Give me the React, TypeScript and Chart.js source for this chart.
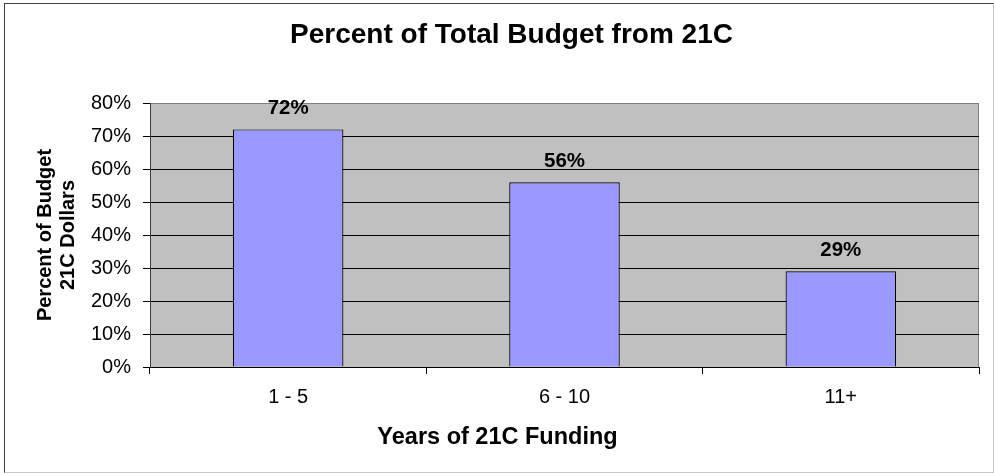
import React, { useEffect, useRef } from "react";
import { Chart, registerables } from "chart.js";

Chart.register(...registerables);

const categories = ["1 - 5", "6 - 10", "11+"];
const percentValues = [72, 56, 29];
const yMin = 0;
const yMax = 80;
const yStep = 10;
const chartTitle = "Percent of Total Budget from 21C";
const xAxisTitle = "Years of 21C Funding";
const yAxisTitleLines = ["Percent of Budget", "21C Dollars"];

const FONT = "'Liberation Sans', Arial, Helvetica, sans-serif";
const W = 995;
const H = 473;

export default function App() {
  const ref = useRef<HTMLCanvasElement>(null);

  useEffect(() => {
    if (!ref.current) return;

    const excelLook = {
      id: "excelLook",
      beforeDraw(chart: any) {
        const { ctx, chartArea: a } = chart;
        ctx.save();
        ctx.fillStyle = "#FFFFFF";
        ctx.fillRect(0, 0, chart.width, chart.height);
        ctx.fillStyle = "#C0C0C0";
        ctx.fillRect(a.left, a.top, a.right - a.left, a.bottom - a.top);
        ctx.strokeStyle = "#808080";
        ctx.lineWidth = 1;
        ctx.strokeRect(a.left + 0.5, a.top + 0.5, a.right - a.left - 1, a.bottom - a.top);
        ctx.restore();
      },
      afterDraw(chart: any) {
        const { ctx, chartArea: a } = chart;
        ctx.save();
        ctx.fillStyle = "#000";
        ctx.textAlign = "center";
        ctx.textBaseline = "alphabetic";

        // Chart title
        ctx.font = `bold 28px ${FONT}`;
        ctx.fillText(chartTitle, chart.width / 2 + 14, 43);

        // X axis title
        ctx.font = `bold 23.5px ${FONT}`;
        ctx.fillText(xAxisTitle, chart.width / 2, 444);

        // Y axis title (rotated, two lines)
        ctx.font = `bold 20px ${FONT}`;
        ctx.textBaseline = "middle";
        const cy = (a.top + a.bottom) / 2;
        yAxisTitleLines.forEach((line, i) => {
          ctx.save();
          ctx.translate(45 + i * 23, cy);
          ctx.rotate(-Math.PI / 2);
          ctx.fillText(line, 0, 0);
          ctx.restore();
        });

        // Data labels
        ctx.font = `bold 20.5px ${FONT}`;
        ctx.textBaseline = "alphabetic";
        const meta = chart.getDatasetMeta(0);
        meta.data.forEach((bar: any, i: number) => {
          ctx.fillText(`${percentValues[i]}%`, bar.x, bar.y - 15);
        });
        ctx.restore();
      },
    };

    const chart = new Chart(ref.current, {
      type: "bar",
      data: {
        labels: categories,
        datasets: [
          {
            data: percentValues,
            backgroundColor: "#9999FF",
            borderColor: "#000000",
            borderWidth: 1.2,
            barPercentage: 0.4,
            categoryPercentage: 1,
          },
        ],
      },
      options: {
        responsive: false,
        animation: false,
        devicePixelRatio: 1,
        layout: { padding: { top: 103, right: 16, left: 0, bottom: 0 } },
        plugins: {
          legend: { display: false },
          title: { display: false },
          tooltip: { enabled: false },
        },
        scales: {
          x: {
            offset: true,
            grid: {
              offset: true,
              drawOnChartArea: false,
              drawTicks: true,
              tickLength: 7,
              color: "#000",
              tickColor: "#000",
            },
            border: { display: false },
            ticks: {
              color: "#000",
              font: { family: FONT, size: 20 },
              padding: 11,
              maxRotation: 0,
            },
            afterFit: (s: any) => {
              s.height = 106;
            },
          },
          y: {
            min: yMin,
            max: yMax,
            ticks: {
              stepSize: yStep,
              color: "#000",
              font: { family: FONT, size: 20 },
              padding: 12,
              callback: (v: any) => `${v}%`,
            },
            grid: {
              color: (c: any) => (c.tick && c.tick.value === yMax ? "#808080" : "#000"),
              tickColor: "#000",
              tickLength: 7,
              lineWidth: 1,
            },
            border: { color: "#404040", width: 1 },
            afterFit: (s: any) => {
              s.width = 150;
            },
          },
        },
      },
      plugins: [excelLook],
    });

    return () => chart.destroy();
  }, []);

  return (
    <div style={{ position: "fixed", left: 0, top: 0, width: W, height: H, background: "#fff" }}>
      <canvas ref={ref} width={W} height={H} style={{ display: "block" }} />
      <div
        style={{
          position: "absolute",
          left: 4,
          top: 3,
          width: 990,
          height: 470,
          boxSizing: "border-box",
          borderStyle: "solid",
          borderWidth: 1,
          borderTopColor: "#404040",
          borderLeftColor: "#404040",
          borderRightColor: "#c8c8c8",
          borderBottomColor: "#c8c8c8",
          pointerEvents: "none",
        }}
      />
    </div>
  );
}
